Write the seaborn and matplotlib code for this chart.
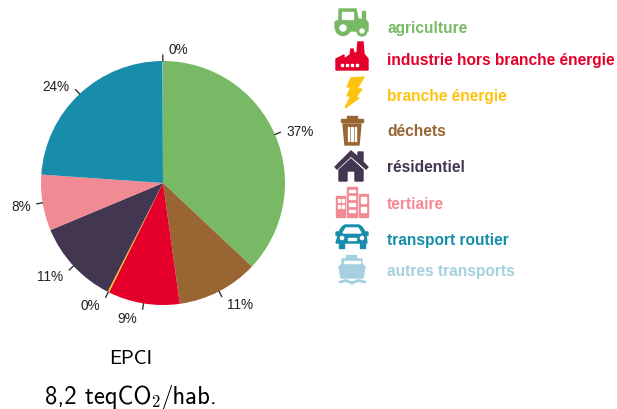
import numpy as np
import matplotlib
matplotlib.use("Agg")
import matplotlib.pyplot as plt
from matplotlib.patches import Circle, Polygon, Rectangle
import seaborn as sns

# clockwise from the top
sectors = ["agriculture", "déchets", "industrie hors branche énergie", "branche énergie",
           "résidentiel", "tertiaire", "transport routier", "autres transports"]
shares = [37.0, 10.8, 9.5, 0.2, 11.2, 7.4, 23.85, 0.05]
share_labels = ["37%", "11%", "9%", "0%", "11%", "8%", "24%", "0%"]
sector_colors = ["#77B964", "#996633", "#E4002B", "#FFC20E", "#433651", "#F28A93", "#178DAB", "#A5D0E0"]

legend_order = ["agriculture", "industrie hors branche énergie", "branche énergie", "déchets",
                "résidentiel", "tertiaire", "transport routier", "autres transports"]
legend_y = [28, 61, 97, 132, 168, 205, 241, 272]

title_line = "EPCI"
value_parts = ["8,2 teqCO", "2", "/hab."]

W, H = 617, 410
CX, CY, R = 163, 184, 122


def tractor(ax, c):
    ax.add_patch(Polygon([(339, 10), (356, 10), (358, 20), (366, 21), (368, 24), (368, 32), (338, 32), (335, 29), (335, 23), (339, 21)], color=c))
    ax.add_patch(Rectangle((362, 12), 2.5, 9, color=c))
    ax.add_patch(Rectangle((342, 13), 11, 7, color="white"))
    ax.add_patch(Circle((343, 29), 7.5, color=c))
    ax.add_patch(Circle((343, 29), 3, color="white"))
    ax.add_patch(Circle((362, 32), 5, color=c))
    ax.add_patch(Circle((362, 32), 2, color="white"))


def factory(ax, c):
    ax.add_patch(Polygon([(336, 71), (336, 60), (344, 56), (344, 60), (350, 56), (351, 50), (353, 50), (354, 54), (357, 54),
                          (358, 43), (363, 43), (364, 55), (368, 60), (368, 71)], color=c))
    for x in [341, 346, 351, 356]:
        ax.add_patch(Rectangle((x, 65), 2, 2, color="white"))


def bolt(ax, c):
    ax.add_patch(Polygon([(351, 79), (364, 78), (357, 90), (362, 90), (356, 98), (359, 99), (345, 109),
                          (351, 97), (347, 97), (351, 88), (347, 88)], color=c))


def trash(ax, c):
    ax.add_patch(Rectangle((341, 120), 22, 3, color=c))
    ax.add_patch(Rectangle((347, 117), 10, 3, color=c))
    ax.add_patch(Polygon([(343, 125), (361, 125), (359, 146), (345, 146)], color=c))
    for x in [347.5, 351.3, 355.1]:
        ax.add_patch(Rectangle((x, 128), 1.3, 14, color="white"))


def house(ax, c):
    ax.add_patch(Polygon([(335, 168), (351, 152), (358, 158), (358, 153), (363, 153), (363, 163), (368, 168), (366, 170),
                          (351, 157), (337, 170)], color=c))
    ax.add_patch(Polygon([(339, 171), (351, 160), (363, 171), (363, 182), (355, 182), (355, 172), (347, 172), (347, 182), (339, 182)], color=c))


def buildings(ax, c):
    ax.add_patch(Rectangle((336, 197), 9, 21, color=c))
    ax.add_patch(Rectangle((347, 188), 10, 30, color=c))
    ax.add_patch(Rectangle((359, 195), 9, 23, color=c))
    for x, y, w, h in [(338, 200, 2, 3), (342, 200, 2, 3), (338, 206, 2, 3), (342, 206, 2, 3),
                       (349, 191, 6, 2), (349, 197, 6, 3), (349, 204, 6, 3), (349, 211, 6, 2),
                       (361, 198, 5, 6), (361, 208, 5, 5)]:
        ax.add_patch(Rectangle((x, y), w, h, color="white"))


def car(ax, c):
    ax.add_patch(Polygon([(342, 228), (345, 226), (359, 226), (362, 228), (365, 233), (368, 233), (368, 236), (366, 237),
                          (367, 244), (336, 244), (338, 237), (336, 236), (336, 233), (339, 233)], color=c))
    ax.add_patch(Polygon([(346, 229), (358, 229), (361, 234), (343, 234)], color="white"))
    ax.add_patch(Rectangle((339, 244), 5, 5, color=c))
    ax.add_patch(Rectangle((360, 244), 5, 5, color=c))
    ax.add_patch(Rectangle((348, 239), 8, 1.5, color="white"))
    ax.add_patch(Circle((342, 239), 1.6, color="white"))
    ax.add_patch(Circle((362, 239), 1.6, color="white"))


def ship(ax, c):
    ax.add_patch(Rectangle((346, 256), 10, 4, color=c))
    ax.add_patch(Polygon([(342, 260), (362, 260), (362, 265), (365, 268), (363, 279), (341, 279), (339, 268), (342, 265)], color=c))
    ax.add_patch(Rectangle((344, 262), 16, 1.5, color="white"))
    ax.plot([340, 346, 352, 358, 365], [283, 281.5, 284, 281.5, 283], color=c, lw=2)


icon_funcs = {
    "agriculture": tractor,
    "industrie hors branche énergie": factory,
    "branche énergie": bolt,
    "déchets": trash,
    "résidentiel": house,
    "tertiaire": buildings,
    "transport routier": car,
    "autres transports": ship,
}


def main():
    sns.set_theme(style="white")
    plt.rcParams["mathtext.fontset"] = "cm"
    palette = sns.color_palette(sector_colors)
    color_of = dict(zip(sectors, sector_colors))

    fig = plt.figure(figsize=(W / 100, H / 100), dpi=100)
    ax = fig.add_axes([(CX - R) / W, 1 - (CY + R) / H, 2 * R / W, 2 * R / H])
    wedges, _ = ax.pie(shares, colors=palette, startangle=90, counterclock=False, radius=1,
                       wedgeprops={"linewidth": 0})
    ax.set_xlim(-1, 1)
    ax.set_ylim(-1, 1)

    for wedge, label in zip(wedges, share_labels):
        a = np.deg2rad((wedge.theta1 + wedge.theta2) / 2)
        ux, uy = np.cos(a), np.sin(a)
        ax.plot([ux, ux * (R + 6) / R], [uy, uy * (R + 6) / R], color="#333333", lw=1, clip_on=False)
        side = "left" if ux >= -0.01 else "right"
        ax.annotate(label, xy=(ux * (R + 6) / R, uy * (R + 6) / R),
                    xytext=(4 if side == "left" else -4, 5 * uy - 1),
                    textcoords="offset points", ha=side, va="center", fontsize=9.8,
                    family="Liberation Sans", color="#222222", annotation_clip=False)

    over = fig.add_axes([0, 0, 1, 1])
    over.set_xlim(0, W)
    over.set_ylim(H, 0)
    over.axis("off")
    over.patch.set_alpha(0)
    for name, y in zip(legend_order, legend_y):
        icon_funcs[name](over, color_of[name])
        over.text(387, y, name, color=color_of[name], fontsize=11.2, fontweight="bold",
                  family="Liberation Sans", va="center", ha="left")

    over.text(131, 359, title_line, family="cmss10", fontsize=14.5, color="black", ha="center", va="center")

    # second line is three pieces because the subscript is a different font and size
    renderer = fig.canvas.get_renderer()
    x = 45
    for part, font, size, y, gap in zip(value_parts, ["cmss10", "cmr10", "cmss10"], [17.8, 12, 17.8],
                                        [404, 407, 404], [0, 1, 0]):
        piece = over.text(x, y, part, family=font, fontsize=size, color="black", ha="left", va="baseline")
        x += piece.get_window_extent(renderer).width + gap

    fig.savefig("out.png", dpi=100)


if __name__ == "__main__":
    main()
